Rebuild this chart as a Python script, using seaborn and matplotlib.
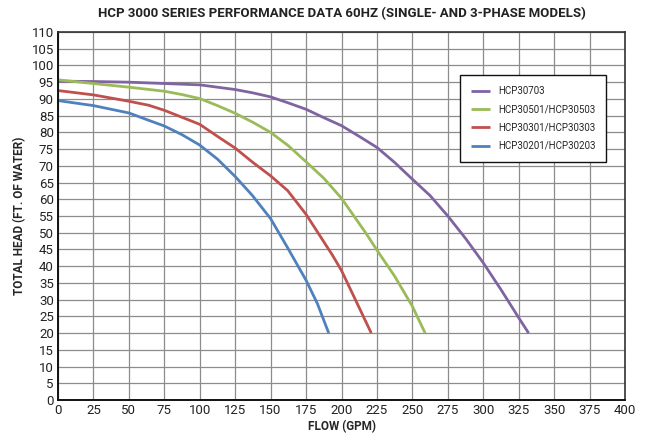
import matplotlib
matplotlib.use("Agg")
import matplotlib.pyplot as plt
import seaborn as sns
import pandas as pd

models = ["HCP30703", "HCP30501/HCP30503", "HCP30301/HCP30303", "HCP30201/HCP30203"]
colors = ["#8064A2", "#9BBB59", "#C0504D", "#4F81BD"]

flow_30703 = [0, 25, 50, 75, 100, 112.5, 125, 137.5, 150, 162.5, 175, 187.5, 200, 212.5, 225,
              237.5, 250, 262.5, 275, 287.5, 300, 312.5, 325, 332]
head_30703 = [95.3, 95.2, 95.0, 94.6, 94.2, 93.5, 92.8, 91.8, 90.6, 88.8, 86.9, 84.4, 82.0, 78.8, 75.5,
              71.0, 66.0, 61.1, 55.0, 48.3, 41.0, 33.0, 24.6, 20.0]

flow_30501 = [0, 25, 50, 75, 87.5, 100, 112.5, 125, 137.5, 150, 162.5, 175, 187.5, 200, 217, 225,
              237.5, 250, 259]
head_30501 = [95.7, 94.6, 93.5, 92.3, 91.3, 90.1, 88.0, 85.7, 83.0, 80.0, 76.0, 71.2, 66.3, 60.3, 50.0, 44.8,
              37.0, 28.0, 20.0]

flow_30301 = [0, 25, 50, 64, 75, 100, 112.5, 125, 137.5, 150, 162, 175, 193.6, 200, 221]
head_30301 = [92.5, 91.2, 89.3, 88.1, 86.6, 82.4, 78.8, 75.3, 71.0, 67.0, 62.6, 55.5, 43.3, 38.7, 20.0]

flow_30201 = [0, 25, 50, 64, 75, 87.5, 100, 112.5, 125, 137, 150, 162, 175, 183, 191]
head_30201 = [89.5, 88.0, 85.8, 83.6, 81.9, 79.3, 76.2, 72.0, 66.8, 61.2, 54.2, 45.5, 35.8, 28.8, 20.0]

x_ticks = list(range(0, 401, 25))
y_ticks = list(range(0, 111, 5))

title = "HCP 3000 SERIES PERFORMANCE DATA 60HZ (SINGLE- AND 3-PHASE MODELS)"
x_label = "FLOW (GPM)"
y_label = "TOTAL HEAD (FT. OF WATER)"

frames = []
for m, fx, hy in zip(models,
                     [flow_30703, flow_30501, flow_30301, flow_30201],
                     [head_30703, head_30501, head_30301, head_30201]):
    frames.append(pd.DataFrame({"flow": fx, "head": hy, "model": m}))
df = pd.concat(frames, ignore_index=True)

sns.set_theme(style="white")
plt.rcParams["font.family"] = ["Roboto", "DejaVu Sans"]

fig = plt.figure(figsize=(6.46, 4.38), dpi=100)
ax = fig.add_axes([58 / 646, 38 / 438, 567 / 646, 368 / 438])

sns.lineplot(data=df, x="flow", y="head", hue="model", hue_order=models,
             palette=colors, linewidth=2.0, sort=False, estimator=None, ax=ax)
for ln in ax.get_lines():
    ln.set_solid_joinstyle("round")
    ln.set_solid_capstyle("butt")

ax.set_xlim(0, 400)
ax.set_ylim(0, 110)
ax.set_xticks(x_ticks)
ax.set_yticks(y_ticks)
ax.set_xticklabels([str(v) for v in x_ticks], fontsize=9.5)
ax.set_yticklabels([str(v) for v in y_ticks], fontsize=9.5)
ax.tick_params(axis="both", length=0, pad=3, colors="#222222")
ax.grid(True, color="#8c8c8c", linewidth=0.9)
ax.set_axisbelow(True)
for s in ["left", "bottom"]:
    ax.spines[s].set_color("#111111")
    ax.spines[s].set_linewidth(1.4)
for s in ["top", "right"]:
    ax.spines[s].set_color("#333333")
    ax.spines[s].set_linewidth(1.2)

ax.set_xlabel(x_label, fontsize=8.5, fontweight="bold", labelpad=2)
ax.set_ylabel(y_label, fontsize=8.5, fontweight="bold")
ax.yaxis.set_label_coords(-0.056, 0.5)
fig.text((58 + 625) / 2 / 646, 1 - 14 / 438, title, ha="center", va="center",
         fontsize=9.5, fontweight="bold", color="#222222")

leg = ax.legend(loc="upper left", bbox_to_anchor=(0.709, 0.882), fontsize=7,
                frameon=True, fancybox=False, framealpha=1, edgecolor="#111111",
                handlelength=2.0, borderpad=1.1, labelspacing=0.85,
                borderaxespad=0, title=None)
leg.get_frame().set_linewidth(1.0)
for line in leg.get_lines():
    line.set_linewidth(2.0)

fig.savefig("out.png", dpi=100)
